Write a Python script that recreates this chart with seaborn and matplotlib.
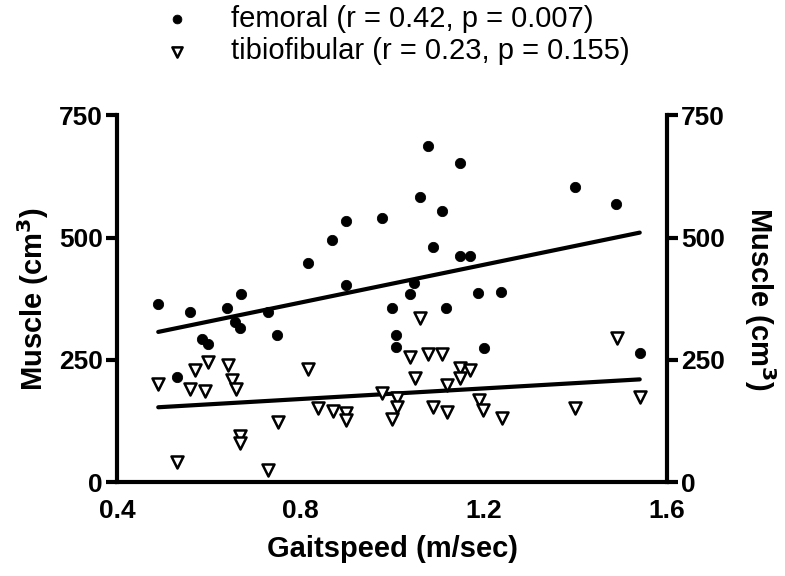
import pandas as pd
import matplotlib.pyplot as plt
import seaborn as sns

# -----------------------------------
# Data
# -----------------------------------

fem_speed = [0.490, 0.530, 0.559, 0.585, 0.598, 0.639, 0.657, 0.668, 0.670,
             0.729, 0.748, 0.817, 0.868, 0.900, 0.900, 0.978, 0.999, 1.008,
             1.008, 1.038, 1.047, 1.060, 1.079, 1.089, 1.108, 1.118, 1.147,
             1.147, 1.169, 1.187, 1.201, 1.238, 1.399, 1.488, 1.540]
fem_muscle = [365, 215, 347, 293, 283, 355, 328, 316, 385,
              347, 300, 447, 495, 533, 402, 539, 355, 300,
              277, 384, 407, 583, 687, 481, 554, 355, 653,
              462, 462, 386, 274, 388, 604, 568, 264]

tib_speed = [0.490, 0.530, 0.559, 0.570, 0.591, 0.599, 0.642, 0.650, 0.660,
             0.668, 0.668, 0.730, 0.751, 0.817, 0.839, 0.871, 0.900, 0.900,
             0.978, 0.999, 1.010, 1.010, 1.039, 1.050, 1.060, 1.079, 1.089,
             1.108, 1.119, 1.119, 1.148, 1.148, 1.169, 1.190, 1.199, 1.239,
             1.398, 1.490, 1.540]
tib_muscle = [200, 41, 191, 230, 187, 246, 240, 208, 191,
              94, 79, 25, 123, 232, 151, 145, 142, 127,
              182, 128, 171, 154, 256, 212, 335, 262, 154,
              262, 198, 144, 234, 212, 230, 168, 147, 132,
              152, 294, 173]

# regression line end points
fit_speed = [0.49, 1.54]
fem_fit = [307, 510]
tib_fit = [153, 210]

y_ticks = [0, 250, 500, 750]
x_ticks = [0.4, 0.8, 1.2, 1.6]

fem_label = "femoral (r = 0.42, p = 0.007)"
tib_label = "tibiofibular (r = 0.23, p = 0.155)"

fem_df = pd.DataFrame({"speed": fem_speed, "muscle": fem_muscle})
tib_df = pd.DataFrame({"speed": tib_speed, "muscle": tib_muscle})

# -----------------------------------
# Plot
# -----------------------------------

sns.set_style("white")
plt.rcParams['font.family'] = ['Liberation Sans', 'DejaVu Sans']
plt.rcParams['text.color'] = 'black'
plt.rcParams['axes.labelcolor'] = 'black'
plt.rcParams['xtick.color'] = 'black'
plt.rcParams['ytick.color'] = 'black'

fig = plt.figure(figsize=(7.85, 5.76), dpi=100)
ax = fig.add_axes([0.149, 0.163, 0.701, 0.637])

sns.scatterplot(data=fem_df, x="speed", y="muscle", ax=ax,
                marker="o", s=55, color="black", edgecolor="black",
                label=fem_label, zorder=3)
sns.scatterplot(data=tib_df, x="speed", y="muscle", ax=ax,
                marker="v", s=75, facecolor="white", edgecolor="black",
                linewidth=1.8, label=tib_label, zorder=3)

ax.plot(fit_speed, fem_fit, color="black", lw=3, zorder=2)
ax.plot(fit_speed, tib_fit, color="black", lw=3, zorder=2)

ax.set_xlim(0.4, 1.6)
ax.set_ylim(0, 750)
ax.set_xticks(x_ticks)
ax.set_xticklabels([f"{t:.1f}" for t in x_ticks])
ax.set_yticks(y_ticks)

ax.set_xlabel("Gaitspeed (m/sec)", fontsize=21, fontweight="bold", labelpad=9)
ax.set_ylabel("Muscle (cm$^\\mathbf{3}$)", fontsize=21, fontweight="bold", labelpad=6)

for side in ["left", "bottom", "right"]:
    ax.spines[side].set_linewidth(3)
    ax.spines[side].set_color("black")
ax.spines["top"].set_visible(False)
ax.spines["right"].set_visible(False)

ax.tick_params(axis="both", direction="out", length=8, width=3,
               labelsize=19, colors="black")
ax.tick_params(axis="x", pad=4)
ax.tick_params(axis="y", pad=2)
for lbl in ax.get_xticklabels() + ax.get_yticklabels():
    lbl.set_fontweight("bold")

# right axis
ax2 = ax.twinx()
ax2.set_ylim(0, 750)
ax2.set_yticks(y_ticks)
ax2.spines["right"].set_linewidth(3)
ax2.spines["right"].set_color("black")
ax2.spines["top"].set_visible(False)
ax2.spines["left"].set_visible(False)
ax2.spines["bottom"].set_visible(False)
ax2.tick_params(axis="y", direction="out", length=8, width=3, pad=2,
                labelsize=19, colors="black")
for lbl in ax2.get_yticklabels():
    lbl.set_fontweight("bold")
ax2.set_ylabel("Muscle (cm$^\\mathbf{3}$)", fontsize=21, fontweight="bold",
               rotation=270, labelpad=38)

# legend on top
handles, labels = ax.get_legend_handles_labels()
ax.get_legend().remove()
fig.legend(handles, labels, loc="upper center", bbox_to_anchor=(0.5, 1.037),
           frameon=False, fontsize=21, handletextpad=1.1, labelspacing=0.15,
           markerscale=0.85, handlelength=1.5)

plt.savefig("out.png", dpi=100)
plt.close()
